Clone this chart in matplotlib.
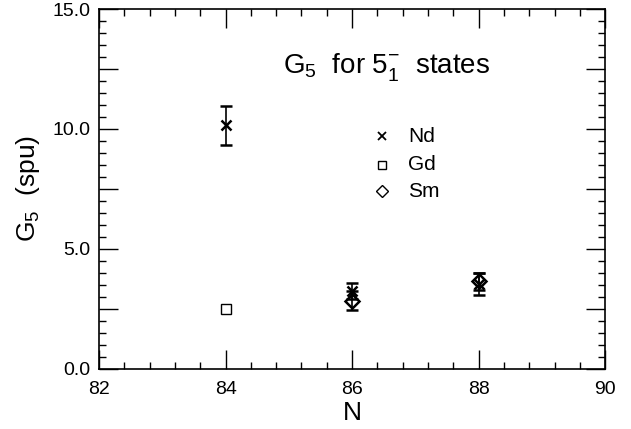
import numpy as np
import matplotlib
matplotlib.use("Agg")
import matplotlib.pyplot as plt
from matplotlib.ticker import MultipleLocator

plt.rcParams['font.family'] = ['Liberation Sans', 'DejaVu Sans']
plt.rcParams['mathtext.fontset'] = 'custom'
plt.rcParams['mathtext.rm'] = 'Liberation Sans'

# data
nd_n = [84, 86, 88]
nd_g = [10.15, 3.25, 3.55]
nd_err = [0.8, 0.35, 0.45]

gd_n = [84]
gd_g = [2.5]

sm_n = [86, 88]
sm_g = [2.85, 3.65]
sm_err = [0.4, 0.35]

fig = plt.figure(figsize=(6.31, 4.29), dpi=100)
ax = fig.add_axes([0.157, 0.140, 0.802, 0.839])

ax.errorbar(nd_n, nd_g, yerr=nd_err, fmt='x', color='black', ms=7, mew=1.8,
            elinewidth=1.2, capsize=4, capthick=1.2)
ax.plot(gd_n, gd_g, 's', mfc='white', mec='black', ms=7, mew=1.0)
ax.errorbar(sm_n, sm_g, yerr=sm_err, fmt='D', mfc='none', mec='black', ecolor='black',
            ms=7.5, mew=1.8, elinewidth=1.2, capsize=4, capthick=1.2)

ax.set_xlim(82, 90)
ax.set_ylim(0, 15)
ax.xaxis.set_major_locator(MultipleLocator(2))
ax.xaxis.set_minor_locator(MultipleLocator(0.4))
ax.yaxis.set_major_locator(MultipleLocator(2.5))
ax.yaxis.set_minor_locator(MultipleLocator(0.5))
ax.set_yticklabels(['' if (v % 5) else '%.1f' % v for v in ax.get_yticks()])
ax.tick_params(which='both', direction='in', top=True, right=True, labelsize=14,
               width=1.0, colors='black')
ax.tick_params(which='major', length=14)
ax.tick_params(which='minor', length=5)
ax.tick_params(axis='x', pad=9)
ax.tick_params(axis='y', pad=6)
for s in ax.spines.values():
    s.set_linewidth(1.2)

ax.set_xlabel('N', fontsize=19, labelpad=2)
ax.set_ylabel(r'G$_\mathregular{5}$  (spu)', fontsize=19, labelpad=8)

ax.text(84.9, 12.6, r'G$_\mathregular{5}$  for 5$_\mathregular{1}^\mathregular{-}$  states',
        fontsize=20, va='center', ha='left')

# legend drawn by hand
lx, ltx = 86.48, 86.88
ax.plot([lx], [9.7], 'x', color='black', ms=6, mew=1.3)
ax.plot([lx], [8.5], 's', mfc='white', mec='black', ms=6, mew=1.0)
ax.plot([lx], [7.4], 'D', mfc='white', mec='black', ms=6, mew=1.0)
ax.text(ltx, 9.7, 'Nd', fontsize=15, va='center')
ax.text(ltx, 8.5, 'Gd', fontsize=15, va='center')
ax.text(ltx, 7.4, 'Sm', fontsize=15, va='center')

fig.savefig('out.png', dpi=100)
